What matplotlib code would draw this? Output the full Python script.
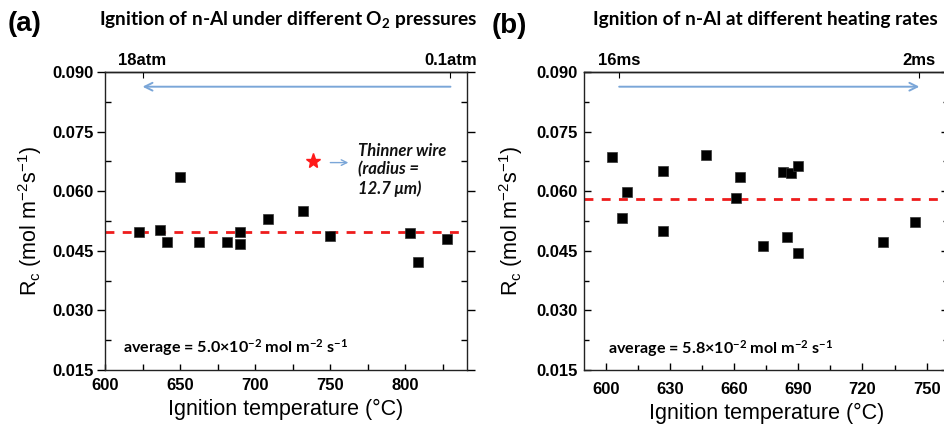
import matplotlib
matplotlib.use("Agg")
import matplotlib.pyplot as plt
from matplotlib.ticker import MultipleLocator

plt.rcParams['font.family'] = ['Liberation Sans', 'DejaVu Sans']
plt.rcParams['mathtext.default'] = 'regular'

# ---------------- data ----------------
# Panel (a): ignition under different O2 pressures
temp_a = [622.7, 636.7, 641.3, 649.8, 662.7, 681.3, 689.8, 690.2, 708.2,
          731.6, 749.8, 803.3, 808.4, 828.0]
rc_a = [0.0498, 0.0502, 0.0471, 0.0635, 0.0473, 0.0473, 0.0497, 0.0467,
        0.0529, 0.0551, 0.0486, 0.0496, 0.0422, 0.0479]
star_temp = [738.4]
star_rc = [0.0676]
avg_a = 0.0497
top_ticks_a = [625, 830]
top_labels_a = ['18atm', '0.1atm']

# Panel (b): ignition at different heating rates
temp_b = [602.8, 610.0, 607.8, 626.8, 627.0, 646.7, 660.7, 662.9, 673.7,
          682.7, 684.9, 686.8, 689.7, 689.9, 729.6, 744.7]
rc_b = [0.0687, 0.0599, 0.0533, 0.0651, 0.0499, 0.0691, 0.0584, 0.0635,
        0.0463, 0.0649, 0.0485, 0.0645, 0.0663, 0.0444, 0.0471, 0.0523]
avg_b = 0.0580
top_ticks_b = [606.3, 746.6]
top_labels_b = ['16ms', '2ms']

yticks = [0.015, 0.030, 0.045, 0.060, 0.075, 0.090]
xticks_a = [600, 650, 700, 750, 800]
xticks_b = [600, 630, 660, 690, 720, 750]

W, H = 944, 425
fig = plt.figure(figsize=(W / 100, H / 100), dpi=100)

def px_axes(x0, y0, x1, y1):
    return fig.add_axes([x0 / W, 1 - y1 / H, (x1 - x0) / W, (y1 - y0) / H])

axa = px_axes(105, 72, 467, 370)
axb = px_axes(584.3, 72, 948, 370)

arrow_col = '#7aa6d8'
title_font = dict(family=['Lato', 'DejaVu Sans'], fontweight='bold')

for ax, tx, ry, avg, xt, xlim, minor in [
        (axa, temp_a, rc_a, avg_a, xticks_a, (600, 841), 25),
        (axb, temp_b, rc_b, avg_b, xticks_b, (590, 760), 15)]:
    ax.set_xlim(*xlim)
    ax.set_ylim(0.015, 0.090)
    ax.axhline(avg, color='#ee1c1c', lw=2, ls=(0, (3.2, 3.0)), zorder=2)
    ax.plot(tx, ry, ls='none', marker='s', ms=7.5, mfc='black', mec='#333333',
            mew=0.5, zorder=3)
    ax.set_yticks(yticks)
    ax.set_yticklabels(['%.3f' % v for v in yticks])
    ax.yaxis.set_minor_locator(MultipleLocator(0.0075))
    ax.set_xticks(xt)
    ax.xaxis.set_minor_locator(MultipleLocator(minor))
    for lab in ax.get_xticklabels() + ax.get_yticklabels():
        lab.set_fontweight('bold')
        lab.set_fontsize(12)
    for sp in ax.spines.values():
        sp.set_linewidth(1.0)
        sp.set_color('#222222')
    ax.tick_params(which='both', right=True, top=False)
    ax.set_xlabel('Ignition temperature (°C)', fontsize=15.5)
    ax.set_ylabel('R$_c$ (mol m$^{-2}$s$^{-1}$)', fontsize=15.5)

# tick styles
axa.tick_params(axis='y', which='major', direction='out', length=6, width=1, pad=2)
axa.tick_params(axis='y', which='minor', direction='in', length=4, width=1)
axa.tick_params(axis='x', which='both', direction='in', length=4, width=1, pad=6)
axb.tick_params(axis='both', which='major', direction='in', length=5, width=1)
axb.tick_params(axis='both', which='minor', direction='in', length=3.5, width=1)
axb.tick_params(axis='y', pad=5)
axb.tick_params(axis='x', pad=9)
axa.xaxis.labelpad = 4
axb.xaxis.labelpad = 4
axa.yaxis.labelpad = 6
axb.yaxis.labelpad = 8

# top secondary axes
for ax, tt, tl in [(axa, top_ticks_a, top_labels_a), (axb, top_ticks_b, top_labels_b)]:
    sec = ax.secondary_xaxis('top')
    sec.set_xticks(tt)
    sec.set_xticklabels(tl, fontweight='bold', fontsize=12)
    sec.tick_params(direction='in', length=4, width=0.8, pad=3)
    sec.spines['top'].set_linewidth(1.0)

# arrows
axa.annotate('', xy=(top_ticks_a[0], 0.0863), xytext=(top_ticks_a[1], 0.0863),
             arrowprops=dict(arrowstyle='->', color=arrow_col, lw=1.4,
                             mutation_scale=14, shrinkA=0, shrinkB=0))
axb.annotate('', xy=(top_ticks_b[1], 0.0863), xytext=(top_ticks_b[0], 0.0863),
             arrowprops=dict(arrowstyle='->', color=arrow_col, lw=1.4,
                             mutation_scale=14, shrinkA=0, shrinkB=0))

# star and note in panel a
axa.plot(star_temp, star_rc, ls='none', marker='*', ms=11, color='#ff1a1a', zorder=4)
axa.annotate('', xy=(762, 0.0672), xytext=(750, 0.0672),
             arrowprops=dict(arrowstyle='->', color=arrow_col, lw=1.0,
                             mutation_scale=10, shrinkA=0, shrinkB=0))
axa.text(768.5, 0.0722, 'Thinner wire\n(radius =\n12.7 μm)', fontsize=12,
         style='italic', va='top', ha='left', linespacing=1.2,
         family=['Lato', 'DejaVu Sans'], fontweight='bold', color='#111111')

# average labels (pixel positions converted to figure fraction)
fig.text(123 / W, 1 - 348 / H, 'average = 5.0×10$^{-2}$ mol m$^{-2}$ s$^{-1}$',
         fontsize=11.6, va='center', ha='left', **title_font)
fig.text(608 / W, 1 - 349 / H, 'average = 5.8×10$^{-2}$ mol m$^{-2}$ s$^{-1}$',
         fontsize=11.6, va='center', ha='left', **title_font)

# titles and panel labels
fig.text(288 / W, 1 - 19 / H, 'Ignition of n-Al under different O$_2$ pressures',
         ha='center', va='center', fontsize=13.8, **title_font)
fig.text(765 / W, 1 - 19 / H, 'Ignition of n-Al at different heating rates',
         ha='center', va='center', fontsize=13.8, **title_font)
fig.text(8 / W, 1 - 24 / H, '(a)', ha='left', va='center', fontsize=20, fontweight='bold')
fig.text(492 / W, 1 - 26 / H, '(b)', ha='left', va='center', fontsize=20, fontweight='bold')

fig.savefig('out.png', dpi=100)
